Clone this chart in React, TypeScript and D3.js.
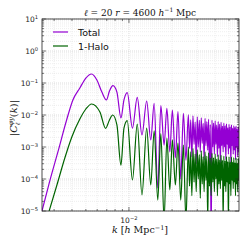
import React, { useEffect, useRef } from 'react';
import * as d3 from 'd3';

const W = 245;
const H = 245;

// k (h/Mpc) of the low-k part
const kTotalHead = [
  0.00247, 0.0028, 0.00319, 0.00367, 0.00406, 0.00454, 0.005, 0.00548,
  0.00597, 0.00647, 0.00696, 0.00731, 0.00773, 0.00824, 0.00879, 0.00923, 0.00973,
  0.01058, 0.01143, 0.01233, 0.0133, 0.0142, 0.015, 0.0159, 0.0167, 0.0176, 0.0184,
  0.0193, 0.0201, 0.0211, 0.022, 0.023, 0.024, 0.025,
];
const kHaloHead = [
  0.00277, 0.00314, 0.00357, 0.00399, 0.00454, 0.005, 0.00548,
  0.00627, 0.00687, 0.00731, 0.00769, 0.00824, 0.00879, 0.00923, 0.00973,
  0.01058, 0.01143, 0.01233, 0.0133, 0.0142, 0.015, 0.0159, 0.0167, 0.0176, 0.0184,
  0.0193, 0.0201, 0.0211, 0.022, 0.023, 0.024, 0.025,
];
// dense oscillating tail, shared by both curves
const kTail = [
  0.026, 0.0265, 0.027, 0.0275, 0.028, 0.0285, 0.029, 0.0295, 0.03, 0.0305,
  0.031, 0.0315, 0.032, 0.0325, 0.033, 0.0335, 0.034, 0.0345, 0.035, 0.0355,
  0.036, 0.0365, 0.037, 0.0375, 0.038, 0.0385, 0.039, 0.0395, 0.04, 0.0405,
  0.041, 0.0415, 0.042, 0.0425, 0.043, 0.0435, 0.044, 0.0445, 0.045, 0.0455,
  0.046, 0.0465, 0.047, 0.0475, 0.048, 0.0485, 0.049, 0.0495, 0.05, 0.0505,
  0.051, 0.0515, 0.052, 0.0525, 0.053, 0.0535, 0.054, 0.0545, 0.055, 0.0555,
  0.056, 0.0565, 0.057, 0.0575, 0.058, 0.0585, 0.059,
];

// |C| Total
const cTotal = [
  1.0e-5, 8.7e-5, 7.0e-4, 7.0e-3, 0.0295, 0.0698, 0.143, 0.191,
  0.124, 0.052, 0.0295, 0.056, 0.0824, 0.052, 0.0081, 0.0295, 0.0498,
  0.0039, 0.0357, 0.00237, 0.0274, 0.00166, 0.0232, 5.2e-5, 0.0195, 0.00115, 0.0162,
  0.0007, 0.0143, 0.00046, 0.0127, 1e-4, 0.0113, 0.00039,
  // tail
  0.0102, 0.0009, 0.007, 0.0005, 0.0094, 0.0012, 0.006, 0.0003, 0.0088, 0.001,
  0.0068, 0.0007, 0.0082, 0.0013, 0.0055, 0.0004, 0.0078, 0.0011, 0.0062, 0.0008,
  0.0073, 0.0002, 0.005, 1e-6, 0.0069, 0.001, 0.0056, 0.0006, 0.0066, 0.0012,
  0.0048, 0.0005, 0.0062, 0.0009, 0.0052, 0.0003, 0.0059, 0.0011, 0.0045, 0.0007,
  0.0056, 0.001, 0.0047, 0.0004, 0.0053, 0.0012, 0.004, 0.0006, 0.0051, 0.0009,
  0.0043, 0.0003, 0.0049, 0.0011, 0.0038, 0.0006, 0.0047, 0.0008, 0.0041, 0.0004,
  0.0045, 0.001, 0.0036, 0.0005, 0.0043, 0.0007, 0.0042,
];

// |C| 1-Halo
const cHalo = [
  1.0e-5, 6.5e-5, 4.6e-4, 0.00205, 0.0075, 0.0154, 0.0221,
  0.0124, 0.00384, 0.007, 0.01, 0.0049, 2.7e-4, 0.0039, 0.00663,
  9.3e-5, 0.0052, 3.2e-5, 0.0039, 6.5e-5, 0.0032, 2.2e-5, 0.0026, 5e-6, 0.0019,
  4.6e-5, 0.00166, 6.5e-5, 0.00133, 2.2e-5, 0.00115, 5e-6,
  // tail
  0.001, 6e-5, 0.0007, 3e-5, 0.0009, 8e-5, 0.0006, 4e-5, 0.00082, 1e-4,
  0.00058, 2.5e-5, 0.00076, 7e-5, 0.0005, 4e-5, 0.0007, 9e-5, 0.00052, 5e-6,
  0.00066, 6e-5, 0.00045, 3e-5, 0.00063, 8e-5, 0.00046, 4e-5, 0.0006, 1e-4,
  0.00042, 3e-5, 0.00057, 7e-5, 0.0004, 5e-5, 0.00055, 9e-5, 0.00038, 5e-6,
  0.00052, 6e-5, 0.00037, 4e-5, 0.0005, 8e-5, 0.00035, 5e-6, 0.00049, 7e-5,
  0.00034, 3e-5, 0.00048, 9e-5, 0.00033, 5e-5, 0.00047, 8e-5, 0.00032, 3e-5,
  0.00045, 7e-5, 0.00031, 4e-5, 0.00044, 9e-5, 0.00043,
];

const xMajor = [0.01];
const xMinor = [0.003, 0.004, 0.005, 0.006, 0.007, 0.008, 0.009, 0.02, 0.03, 0.04, 0.05];
const yExp = [-5, -4, -3, -2, -1, 0, 1];

const App = () => {
  const svgRef = useRef<SVGSVGElement>(null);

  useEffect(() => {
    const svg = d3.select(svgRef.current);
    svg.selectAll('*').remove();

    const left = 42, right = 239, top = 19, bottom = 211;
    const x = d3.scaleLog().domain([0.00247, 0.0587]).range([left, right]);
    const y = d3.scaleLog().domain([1e-5, 10]).range([bottom, top]);

    svg.append('rect').attr('width', W).attr('height', H).attr('fill', '#fff');

    const yMinor: number[] = [];
    yExp.slice(0, -1).forEach(e => {
      for (let m = 2; m <= 9; m++) yMinor.push(m * Math.pow(10, e));
    });
    const yMajor = yExp.map(e => Math.pow(10, e));

    // grid
    const grid = svg.append('g');
    const gridLine = (x1: number, y1: number, x2: number, y2: number, major: boolean) =>
      grid.append('line')
        .attr('x1', x1).attr('y1', y1).attr('x2', x2).attr('y2', y2)
        .attr('stroke', major ? '#c8c8c8' : '#e2e2e2')
        .attr('stroke-width', 0.6)
        .attr('stroke-dasharray', '1,1');
    xMinor.forEach(v => gridLine(x(v), top, x(v), bottom, false));
    xMajor.forEach(v => gridLine(x(v), top, x(v), bottom, true));
    yMinor.forEach(v => gridLine(left, y(v), right, y(v), false));
    yMajor.forEach(v => gridLine(left, y(v), right, y(v), true));

    svg.append('clipPath').attr('id', 'plotclip')
      .append('rect').attr('x', left).attr('y', top)
      .attr('width', right - left).attr('height', bottom - top);

    const line = d3.line<[number, number]>()
      .x(d => x(d[0]))
      .y(d => y(d[1]))
      .curve(d3.curveMonotoneX);

    const kTotal = [...kTotalHead, ...kTail];
    const kHalo = [...kHaloHead, ...kTail];

    const plot = svg.append('g').attr('clip-path', 'url(#plotclip)');
    plot.append('path')
      .attr('d', line(kTotal.map((k, i) => [k, cTotal[i]] as [number, number])))
      .attr('fill', 'none')
      .attr('stroke', '#9400d3')
      .attr('stroke-width', 1.2);
    plot.append('path')
      .attr('d', line(kHalo.map((k, i) => [k, cHalo[i]] as [number, number])))
      .attr('fill', 'none')
      .attr('stroke', '#006400')
      .attr('stroke-width', 1.2);

    // ticks (inside)
    const ticks = svg.append('g').attr('stroke', '#222').attr('stroke-width', 0.6);
    const tick = (x1: number, y1: number, x2: number, y2: number) =>
      ticks.append('line').attr('x1', x1).attr('y1', y1).attr('x2', x2).attr('y2', y2);
    xMajor.forEach(v => { tick(x(v), bottom, x(v), bottom - 4); tick(x(v), top, x(v), top + 4); });
    xMinor.forEach(v => { tick(x(v), bottom, x(v), bottom - 2); tick(x(v), top, x(v), top + 2); });
    yMajor.forEach(v => { tick(left, y(v), left + 4, y(v)); tick(right, y(v), right - 4, y(v)); });
    yMinor.forEach(v => { tick(left, y(v), left + 2, y(v)); tick(right, y(v), right - 2, y(v)); });

    svg.append('rect')
      .attr('x', left).attr('y', top)
      .attr('width', right - left).attr('height', bottom - top)
      .attr('fill', 'none').attr('stroke', '#222').attr('stroke-width', 0.8);

    const sans = 'DejaVu Sans, sans-serif';
    const serif = 'DejaVu Serif, serif';

    // y tick labels
    yExp.forEach(e => {
      const t = svg.append('text')
        .attr('x', left - 4).attr('y', y(Math.pow(10, e)) + 3)
        .attr('text-anchor', 'end')
        .attr('font-family', sans).attr('font-size', 7.5).attr('fill', '#222');
      t.append('tspan').text('10');
      t.append('tspan').attr('dy', -3.5).attr('font-size', 5.2).text(e < 0 ? '\u2212' + (-e) : String(e));
    });

    // x tick labels
    xMajor.forEach(v => {
      const t = svg.append('text')
        .attr('x', x(v)).attr('y', bottom + 12)
        .attr('text-anchor', 'middle')
        .attr('font-family', sans).attr('font-size', 7.5).attr('fill', '#222');
      t.append('tspan').text('10');
      t.append('tspan').attr('dy', -3.5).attr('font-size', 5.2).text('\u2212' + (-Math.round(Math.log10(v))));
    });

    // title
    const title = svg.append('text')
      .attr('x', 140).attr('y', 15.5)
      .attr('text-anchor', 'middle')
      .attr('font-family', serif).attr('font-size', 9).attr('fill', '#111');
    title.append('tspan').attr('font-style', 'italic').text('\u2113');
    title.append('tspan').text(' = 20  ');
    title.append('tspan').attr('font-style', 'italic').text('r');
    title.append('tspan').text(' = 4600  ');
    title.append('tspan').attr('font-style', 'italic').text('h');
    title.append('tspan').attr('dy', -3.5).attr('font-size', 6).text('\u22121');
    title.append('tspan').attr('dy', 3.5).text(' Mpc');

    // x label
    const xl = svg.append('text')
      .attr('x', 140).attr('y', 233)
      .attr('text-anchor', 'middle')
      .attr('font-family', serif).attr('font-size', 9.5).attr('fill', '#111');
    xl.append('tspan').attr('font-style', 'italic').text('k');
    xl.append('tspan').text(' [');
    xl.append('tspan').attr('font-style', 'italic').text('h');
    xl.append('tspan').text(' Mpc');
    xl.append('tspan').attr('dy', -3.5).attr('font-size', 6.5).text('\u22121');
    xl.append('tspan').attr('dy', 3.5).text(']');

    // y label (rotated)
    const yl = svg.append('text')
      .attr('transform', `translate(17,${(top + bottom) / 2 + 3}) rotate(-90)`)
      .attr('text-anchor', 'middle')
      .attr('font-family', serif).attr('font-size', 10).attr('fill', '#111');
    yl.append('tspan').text('|');
    yl.append('tspan').attr('font-style', 'italic').text('C');
    yl.append('tspan').attr('font-style', 'italic').attr('font-size', 6.5).attr('dy', 2.5).text('\u2113');
    yl.append('tspan').attr('font-style', 'italic').attr('font-size', 6.5).attr('dx', -3).attr('dy', -7).text('\u03C6y');
    yl.append('tspan').attr('dy', 4.5).text('(');
    yl.append('tspan').attr('font-style', 'italic').text('k');
    yl.append('tspan').text(')|');

    // legend
    const legend = [
      { label: 'Total', color: '#9400d3', yy: 32 },
      { label: '1-Halo', color: '#006400', yy: 46 },
    ];
    legend.forEach(d => {
      svg.append('line')
        .attr('x1', 53).attr('x2', 68).attr('y1', d.yy).attr('y2', d.yy)
        .attr('stroke', d.color).attr('stroke-width', 1.2);
      svg.append('text')
        .attr('x', 78).attr('y', d.yy + 3.5)
        .attr('font-family', sans).attr('font-size', 9.5).attr('fill', '#111')
        .text(d.label);
    });
  }, []);

  return (
    <svg
      ref={svgRef}
      width={W}
      height={H}
      style={{ position: 'absolute', left: 0, top: 0, display: 'block' }}
    />
  );
};

export default App;
